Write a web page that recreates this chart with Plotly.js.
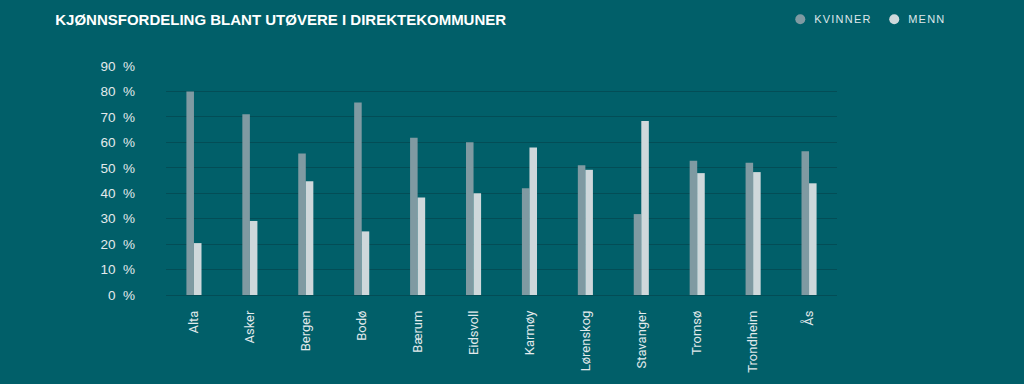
<!DOCTYPE html>
<html>
<head>
<meta charset="utf-8">
<script src="https://cdn.plot.ly/plotly-3.0.1.min.js"></script>
<style>
html,body{margin:0;padding:0;background:#015f69;}
#chart{width:1024px;height:384px;}
</style>
</head>
<body>
<div id="chart"></div>
<script>
const categories = ["Alta","Asker","Bergen","Bodø","Bærum","Eidsvoll","Karmøy","Lørenskog","Stavanger","Tromsø","Trondheim","Ås"];
const kvinner = [80, 71, 55.6, 75.7, 61.8, 60, 42, 51, 31.8, 52.8, 52, 56.5];
const menn = [20.4, 29.1, 44.7, 25, 38.3, 40, 58, 49.2, 68.4, 47.9, 48.3, 43.9];
const seriesNames = ["KVINNER", "MENN"];
const colors = ["#7f9aa2", "#cfd8db"];

const traces = [
  {type:'bar', x:categories, y:kvinner, name:seriesNames[0], marker:{color:colors[0]}, showlegend:false},
  {type:'bar', x:categories, y:menn, name:seriesNames[1], marker:{color:colors[1]}, showlegend:false},
  {type:'scatter', mode:'markers', x:[null], y:[null], name:seriesNames[0], marker:{color:colors[0], size:10, symbol:'circle'}, showlegend:true},
  {type:'scatter', mode:'markers', x:[null], y:[null], name:seriesNames[1], marker:{color:colors[1], size:10, symbol:'circle'}, showlegend:true}
];

const layout = {
  width:1024, height:384,
  paper_bgcolor:'#015f69', plot_bgcolor:'#015f69',
  margin:{l:166, r:187, t:66, b:89, autoexpand:false},
  font:{family:'Liberation Sans, Arial, sans-serif', color:'#e3eaec'},
  title:{text:'<b>KJØNNSFORDELING BLANT UTØVERE I DIREKTEKOMMUNER</b>', x:0.054, xanchor:'left', y:0.948, yanchor:'middle', font:{size:15, color:'#ffffff', family:'Liberation Sans, Arial, sans-serif'}},
  barmode:'group', bargap:0.73, bargroupgap:0,
  xaxis:{type:'category', tickangle:-90, tickfont:{size:13, color:'#e3eaec', family:'Roboto, Liberation Sans, sans-serif'}, showgrid:false, showline:false, zeroline:false, ticks:'', ticklabelstandoff:12},
  yaxis:{range:[0,90], dtick:10, ticksuffix:'  %', tickfont:{size:13.5, color:'#e3eaec', family:'Liberation Sans, Arial, sans-serif'}, gridcolor:'#034d56', gridwidth:1, zeroline:true, zerolinecolor:'#034d56', zerolinewidth:1, showline:false, ticks:'', ticklabelstandoff:30},
  legend:{orientation:'h', xref:'container', yref:'container', x:0.762, xanchor:'left', y:0.95, yanchor:'middle', font:{size:11, color:'#dfe7ea'}, itemwidth:30, traceorder:'normal', bgcolor:'rgba(0,0,0,0)'},
  hovermode:false
};

Plotly.newPlot('chart', traces, layout, {displayModeBar:false, staticPlot:true}).then(function(){
  document.querySelectorAll('.legendtext').forEach(function(t){
    t.style.letterSpacing='1.2px';
    var x = parseFloat(t.getAttribute('x')) || 40;
    t.setAttribute('x', x - 6);
  });
});
</script>
</body>
</html>
